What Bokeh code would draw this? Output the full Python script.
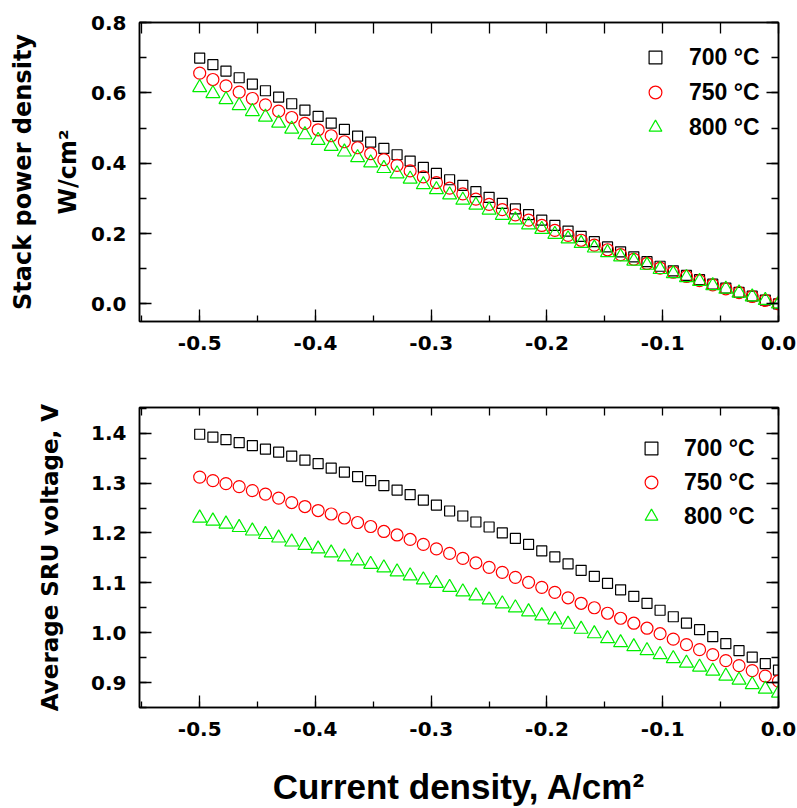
from bokeh.plotting import figure
from bokeh.models import (LinearAxis, SingleIntervalTicker, PrintfTickFormatter,
                          Legend, LegendItem, Range1d, CustomLabelingPolicy)
from bokeh.layouts import column
from bokeh.embed import file_html
from bokeh.resources import INLINE

# ---------------- data ----------------
current = [-0.5000, -0.4886, -0.4773, -0.4659, -0.4545, -0.4432, -0.4318, -0.4205,
           -0.4091, -0.3977, -0.3864, -0.3750, -0.3636, -0.3523, -0.3409, -0.3295,
           -0.3182, -0.3068, -0.2955, -0.2841, -0.2727, -0.2614, -0.2500, -0.2386,
           -0.2273, -0.2159, -0.2045, -0.1932, -0.1818, -0.1705, -0.1591, -0.1477,
           -0.1364, -0.1250, -0.1136, -0.1023, -0.0909, -0.0795, -0.0682, -0.0568,
           -0.0455, -0.0341, -0.0227, -0.0114, 0.0000]

volt_700 = [1.398, 1.392, 1.387, 1.381, 1.375, 1.368, 1.362, 1.354, 1.346, 1.339,
            1.330, 1.322, 1.313, 1.305, 1.295, 1.286, 1.277, 1.266, 1.256, 1.244,
            1.234, 1.222, 1.212, 1.200, 1.189, 1.177, 1.164, 1.152, 1.138, 1.125,
            1.113, 1.099, 1.086, 1.073, 1.059, 1.045, 1.032, 1.019, 1.006, 0.992,
            0.978, 0.964, 0.951, 0.938, 0.925]
volt_750 = [1.312, 1.305, 1.299, 1.293, 1.285, 1.278, 1.270, 1.261, 1.253, 1.245,
            1.238, 1.230, 1.221, 1.213, 1.203, 1.196, 1.187, 1.177, 1.168, 1.159,
            1.149, 1.140, 1.131, 1.121, 1.111, 1.101, 1.091, 1.081, 1.070, 1.059,
            1.050, 1.039, 1.029, 1.019, 1.009, 0.998, 0.987, 0.976, 0.966, 0.956,
            0.944, 0.934, 0.924, 0.913, 0.903]
volt_800 = [1.230, 1.224, 1.218, 1.211, 1.204, 1.197, 1.190, 1.182, 1.175, 1.168,
            1.160, 1.152, 1.144, 1.137, 1.130, 1.122, 1.114, 1.106, 1.099, 1.091,
            1.082, 1.074, 1.066, 1.058, 1.050, 1.042, 1.034, 1.026, 1.017, 1.007,
            0.998, 0.988, 0.980, 0.972, 0.964, 0.956, 0.948, 0.939, 0.931, 0.923,
            0.913, 0.905, 0.896, 0.887, 0.879]

power_700 = [0.699, 0.680, 0.662, 0.643, 0.625, 0.606, 0.588, 0.569, 0.551, 0.533,
             0.514, 0.496, 0.477, 0.460, 0.442, 0.424, 0.406, 0.388, 0.371, 0.353,
             0.337, 0.319, 0.303, 0.286, 0.270, 0.254, 0.238, 0.223, 0.207, 0.192,
             0.177, 0.162, 0.148, 0.134, 0.120, 0.107, 0.094, 0.081, 0.069, 0.056,
             0.045, 0.033, 0.022, 0.011, 0.000]
power_750 = [0.656, 0.638, 0.620, 0.602, 0.584, 0.566, 0.548, 0.530, 0.513, 0.495,
             0.478, 0.461, 0.444, 0.427, 0.410, 0.394, 0.378, 0.361, 0.345, 0.329,
             0.313, 0.298, 0.283, 0.268, 0.253, 0.238, 0.223, 0.209, 0.195, 0.181,
             0.167, 0.154, 0.140, 0.127, 0.115, 0.102, 0.090, 0.078, 0.066, 0.054,
             0.043, 0.032, 0.021, 0.010, 0.000]
power_800 = [0.615, 0.598, 0.581, 0.564, 0.547, 0.531, 0.514, 0.497, 0.481, 0.465,
             0.448, 0.432, 0.416, 0.401, 0.385, 0.370, 0.355, 0.339, 0.325, 0.310,
             0.295, 0.281, 0.267, 0.252, 0.239, 0.225, 0.212, 0.198, 0.185, 0.172,
             0.159, 0.146, 0.134, 0.122, 0.110, 0.098, 0.086, 0.075, 0.064, 0.052,
             0.042, 0.031, 0.020, 0.010, 0.000]

series_labels = ["700 \u00b0C", "750 \u00b0C", "800 \u00b0C"]
x_title = "Current density, A/cm\u00b2"
y_title_top = "Stack power density\nW/cm\u00b2"
y_title_bottom = "Average SRU voltage, V"

TICK_FONT = "DejaVu Sans"
LABEL_FONT = "DejaVu Sans"
TEXT_FONT = "Liberation Sans"

HIDE_ALL = """
const n = indices.size
for (let i = 0; i < n; i++) { indices.unset(i) }
return indices
"""


def style_axis(ax, major_in, minor_in, show_labels=True):
    ax.major_tick_in = major_in
    ax.major_tick_out = 0
    ax.minor_tick_in = minor_in
    ax.minor_tick_out = 0
    ax.axis_line_width = 1.5
    ax.axis_line_color = "black"
    ax.major_tick_line_width = 1.3
    ax.minor_tick_line_width = 1.3
    ax.major_tick_line_color = "black"
    ax.minor_tick_line_color = "black"
    if show_labels:
        ax.major_label_text_font = TICK_FONT
        ax.major_label_text_font_style = "bold"
        ax.major_label_text_font_size = "20px"
        ax.major_label_text_color = "black"
    else:
        ax.major_label_policy = CustomLabelingPolicy(code=HIDE_ALL)
        ax.major_label_standoff = 0


def make_panel(height, top_b, bottom_b, yr, yticker_int, ys, ylab, ylab_size,
               ylab_standoff, leg_loc, leg_spacing, leg_standoff, top_tick_len,
               xlab=None):
    p = figure(width=797, height=height, output_backend="svg", toolbar_location=None,
               x_range=Range1d(-0.552, 0.0), y_range=Range1d(*yr),
               min_border_left=139, min_border_right=19,
               min_border_top=top_b, min_border_bottom=bottom_b)
    p.xgrid.visible = False
    p.ygrid.visible = False
    p.outline_line_color = "black"
    p.outline_line_width = 1.5
    p.background_fill_color = "white"
    p.border_fill_color = "white"

    xt = SingleIntervalTicker(interval=0.1, num_minor_ticks=2)
    yt = SingleIntervalTicker(interval=yticker_int, num_minor_ticks=2)
    xa = p.xaxis[0]
    xa.ticker = xt
    xa.formatter = PrintfTickFormatter(format="%.1f")
    style_axis(xa, 12, 6)
    xa.major_label_standoff = 14
    ya = p.yaxis[0]
    ya.ticker = yt
    ya.formatter = PrintfTickFormatter(format="%.1f")
    style_axis(ya, 12, 7)
    ya.major_label_standoff = 13
    ya.axis_label = ylab
    ya.axis_label_text_font = LABEL_FONT
    ya.axis_label_text_font_style = "bold"
    ya.axis_label_text_font_size = ylab_size
    ya.axis_label_text_line_height = 1.6
    ya.axis_label_standoff = ylab_standoff
    ya.axis_label_text_color = "black"
    if xlab:
        xa.axis_label = xlab
        xa.axis_label_text_font = TEXT_FONT
        xa.axis_label_text_font_style = "bold"
        xa.axis_label_text_font_size = "35px"
        xa.axis_label_standoff = 28
        xa.axis_label_text_color = "black"

    top_ax = LinearAxis(ticker=SingleIntervalTicker(interval=0.05, num_minor_ticks=0))
    style_axis(top_ax, top_tick_len, 0, show_labels=False)
    p.add_layout(top_ax, "above")
    right_ax = LinearAxis(ticker=SingleIntervalTicker(interval=yticker_int, num_minor_ticks=2))
    style_axis(right_ax, 12, 7, show_labels=False)
    p.add_layout(right_ax, "right")

    r1 = p.scatter(current, ys[0], marker="square", size=10, fill_color=None,
                   line_color="black", line_width=1.2)
    r2 = p.scatter(current, ys[1], marker="circle", size=12, fill_color=None,
                   line_color="#ff0000", line_width=1.2)
    r3 = p.scatter(current, ys[2], marker="triangle", size=14, fill_color=None,
                   line_color="#00ee00", line_width=1.2)

    leg = Legend(items=[LegendItem(label=series_labels[0], renderers=[r1]),
                        LegendItem(label=series_labels[1], renderers=[r2]),
                        LegendItem(label=series_labels[2], renderers=[r3])],
                 location=leg_loc, border_line_color=None, background_fill_alpha=0,
                 label_text_font=TEXT_FONT, label_text_font_style="bold",
                 label_text_font_size="23px", label_text_color="black",
                 glyph_width=32, glyph_height=32, spacing=leg_spacing,
                 label_standoff=leg_standoff, padding=10, margin=0)
    p.add_layout(leg)
    return p


p1 = make_panel(380, 22, 59, (-0.05, 0.8), 0.2,
                [power_700, power_750, power_800], y_title_top, "24px", 6,
                (500, 178), 3, 18, 11)
p2 = make_panel(428, 27, 101, (0.85, 1.4516), 0.1,
                [volt_700, volt_750, volt_800], y_title_bottom, "23px", 25,
                (496, 175), 2, 17, 8, xlab=x_title)

layout = column(p1, p2, spacing=0)
open("out.html", "w").write(file_html(layout, INLINE))
